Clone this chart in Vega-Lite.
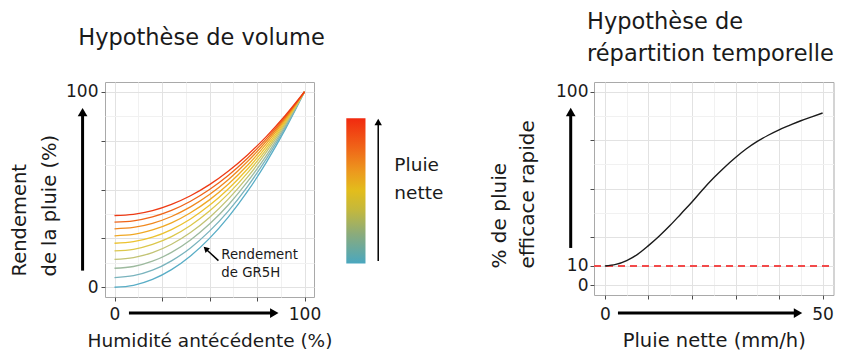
{
  "$schema": "https://vega.github.io/schema/vega-lite/v6.json",
  "autosize": {"type": "none"},
  "padding": {"left": 105, "top": 82, "right": 736, "bottom": 270},
  "bounds": "flush",
  "spacing": 280,
  "datasets": {
    "curves": [
      {"k":0,"x":0,"y":0},{"k":0,"x":10,"y":1},{"k":0,"x":20,"y":4},{"k":0,"x":30,"y":9},{"k":0,"x":40,"y":16},{"k":0,"x":50,"y":25},{"k":0,"x":60,"y":36},{"k":0,"x":70,"y":49},{"k":0,"x":80,"y":64},{"k":0,"x":90,"y":81},{"k":0,"x":100,"y":100},
      {"k":1,"x":0,"y":4.9},{"k":1,"x":10,"y":5.9},{"k":1,"x":20,"y":8.7},{"k":1,"x":30,"y":13.5},{"k":1,"x":40,"y":20.1},{"k":1,"x":50,"y":28.7},{"k":1,"x":60,"y":39.1},{"k":1,"x":70,"y":51.5},{"k":1,"x":80,"y":65.8},{"k":1,"x":90,"y":81.9},{"k":1,"x":100,"y":100},
      {"k":2,"x":0,"y":9.7},{"k":2,"x":10,"y":10.6},{"k":2,"x":20,"y":13.3},{"k":2,"x":30,"y":17.8},{"k":2,"x":40,"y":24.2},{"k":2,"x":50,"y":32.3},{"k":2,"x":60,"y":42.2},{"k":2,"x":70,"y":54.0},{"k":2,"x":80,"y":67.5},{"k":2,"x":90,"y":82.8},{"k":2,"x":100,"y":100},
      {"k":3,"x":0,"y":14.3},{"k":3,"x":10,"y":15.2},{"k":3,"x":20,"y":17.7},{"k":3,"x":30,"y":22.0},{"k":3,"x":40,"y":28.0},{"k":3,"x":50,"y":35.7},{"k":3,"x":60,"y":45.2},{"k":3,"x":70,"y":56.3},{"k":3,"x":80,"y":69.2},{"k":3,"x":90,"y":83.7},{"k":3,"x":100,"y":100},
      {"k":4,"x":0,"y":18.6},{"k":4,"x":10,"y":19.4},{"k":4,"x":20,"y":21.9},{"k":4,"x":30,"y":25.9},{"k":4,"x":40,"y":31.6},{"k":4,"x":50,"y":39.0},{"k":4,"x":60,"y":47.9},{"k":4,"x":70,"y":58.5},{"k":4,"x":80,"y":70.7},{"k":4,"x":90,"y":84.5},{"k":4,"x":100,"y":100},
      {"k":5,"x":0,"y":22.5},{"k":5,"x":10,"y":23.3},{"k":5,"x":20,"y":25.6},{"k":5,"x":30,"y":29.5},{"k":5,"x":40,"y":34.9},{"k":5,"x":50,"y":41.9},{"k":5,"x":60,"y":50.4},{"k":5,"x":70,"y":60.5},{"k":5,"x":80,"y":72.1},{"k":5,"x":90,"y":85.3},{"k":5,"x":100,"y":100},
      {"k":6,"x":0,"y":26.3},{"k":6,"x":10,"y":27.0},{"k":6,"x":20,"y":29.3},{"k":6,"x":30,"y":32.9},{"k":6,"x":40,"y":38.1},{"k":6,"x":50,"y":44.7},{"k":6,"x":60,"y":52.8},{"k":6,"x":70,"y":62.4},{"k":6,"x":80,"y":73.5},{"k":6,"x":90,"y":86.0},{"k":6,"x":100,"y":100},
      {"k":7,"x":0,"y":29.9},{"k":7,"x":10,"y":30.6},{"k":7,"x":20,"y":32.7},{"k":7,"x":30,"y":36.2},{"k":7,"x":40,"y":41.1},{"k":7,"x":50,"y":47.4},{"k":7,"x":60,"y":55.1},{"k":7,"x":70,"y":64.3},{"k":7,"x":80,"y":74.8},{"k":7,"x":90,"y":86.7},{"k":7,"x":100,"y":100},
      {"k":8,"x":0,"y":33.3},{"k":8,"x":10,"y":34.0},{"k":8,"x":20,"y":36.0},{"k":8,"x":30,"y":39.3},{"k":8,"x":40,"y":44.0},{"k":8,"x":50,"y":50.0},{"k":8,"x":60,"y":57.3},{"k":8,"x":70,"y":66.0},{"k":8,"x":80,"y":76.0},{"k":8,"x":90,"y":87.3},{"k":8,"x":100,"y":100},
      {"k":9,"x":0,"y":36.7},{"k":9,"x":10,"y":37.3},{"k":9,"x":20,"y":39.2},{"k":9,"x":30,"y":42.4},{"k":9,"x":40,"y":46.8},{"k":9,"x":50,"y":52.5},{"k":9,"x":60,"y":59.5},{"k":9,"x":70,"y":67.7},{"k":9,"x":80,"y":77.2},{"k":9,"x":90,"y":88.0},{"k":9,"x":100,"y":100}
    ],
    "sig": [
      {"x":0,"y":10},{"x":2.5,"y":10.8},{"x":5,"y":12.8},{"x":7.5,"y":16},{"x":10,"y":20.5},{"x":12.5,"y":25.5},{"x":15,"y":31},{"x":17.5,"y":37},{"x":20,"y":43},{"x":22.5,"y":49.5},{"x":25,"y":55.5},{"x":27.5,"y":61},{"x":30,"y":66},{"x":32.5,"y":70.5},{"x":35,"y":74.3},{"x":37.5,"y":77.5},{"x":40,"y":80.3},{"x":42.5,"y":82.7},{"x":45,"y":85},{"x":47.5,"y":87},{"x":50,"y":89}
    ]
  },
  "hconcat": [
    {
      "width": 209,
      "height": 215,
      "title": {"text": "Hypothèse de volume", "anchor": "middle", "frame": "group", "baseline": "alphabetic", "offset": 35, "dx": -8, "dy": 20.7},
      "encoding": {
        "x": {"field": "x", "type": "quantitative", "scale": {"domain": [-5, 105], "nice": false, "zero": false},
          "axis": {"title": "Humidité antécédente (%)", "titleFontSize": 18.5, "titleY": 49.7, "titleBaseline": "alphabetic",
            "values": [0, 12.5, 25, 37.5, 50, 62.5, 75, 87.5, 100], "format": "d", "labelOverlap": false, "labelPadding": 5,
            "labelExpr": "datum.value == 0 || datum.value == 100 ? datum.label : ''",
            "tickOpacity": {"condition": {"test": "datum.value % 25 != 0", "value": 0}, "value": 1},
            "gridColor": {"condition": {"test": "datum.value % 25 != 0", "value": "#f1f1f1"}, "value": "#e2e2e2"}}},
        "y": {"field": "y", "type": "quantitative", "scale": {"domain": [-5, 105], "nice": false, "zero": false},
          "axis": {"title": ["Rendement", "de la pluie (%)"], "titleFontSize": 19.5, "titleLineHeight": 30, "titleAngle": 270, "titleAlign": "left", "titleBaseline": "alphabetic", "titleX": -80, "titleY": 194,
            "values": [0, 12.5, 25, 37.5, 50, 62.5, 75, 87.5, 100], "format": "d", "labelOverlap": false, "labelPadding": 3,
            "labelExpr": "datum.value == 0 || datum.value == 100 ? datum.label : ''",
            "tickOpacity": {"condition": {"test": "datum.value % 25 != 0", "value": 0}, "value": 1},
            "gridColor": {"condition": {"test": "datum.value % 25 != 0", "value": "#f1f1f1"}, "value": "#e2e2e2"}}}
      },
      "layer": [
        {
          "data": {"name": "curves"},
          "mark": {"type": "line", "interpolate": "monotone", "strokeWidth": 1.3},
          "encoding": {
            "color": {"field": "k", "type": "nominal", "legend": null,
              "scale": {"domain": [0,1,2,3,4,5,6,7,8,9], "range": ["#58adc6", "#79b3bd", "#9dba9e", "#c2c374", "#dcc74b", "#ecc22f", "#f0a824", "#f0881e", "#ef6418", "#ee3a14"]}}
          }
        },
        {
          "data": {"values": [{"x": 56.2, "y": 14.6, "t": "Rendement\nde GR5H"}]},
          "mark": {"type": "text", "align": "left", "baseline": "alphabetic", "fontSize": 13.3, "lineBreak": "\n", "lineHeight": 18.3, "color": "#1a1a1a"},
          "encoding": {"text": {"field": "t"}}
        },
        {
          "data": {"values": [{"x": 54.7, "y": 13.6, "x2": 48.5, "y2": 19.2}]},
          "mark": {"type": "rule", "color": "black", "strokeWidth": 1.5},
          "encoding": {"x2": {"field": "x2"}, "y2": {"field": "y2"}}
        },
        {
          "data": {"values": [
            {"x": -16.8, "y": 8.5, "x2": -16.8, "y2": 89.5},
            {"x": 7.6, "y": -13.2, "x2": 84.3, "y2": -13.2}
          ]},
          "mark": {"type": "rule", "color": "black", "strokeWidth": 3},
          "encoding": {"x2": {"field": "x2"}, "y2": {"field": "y2"}}
        },
        {
          "data": {"values": [{"x": 48.0, "y": 19.7}]},
          "mark": {"type": "point", "shape": "triangle-up", "filled": true, "color": "black", "opacity": 1, "size": 40, "angle": 313}
        },
        {
          "data": {"values": [{"x": -16.8, "y": 89.6}]},
          "mark": {"type": "point", "shape": "triangle-up", "filled": true, "color": "black", "opacity": 1, "size": 95}
        },
        {
          "data": {"values": [{"x": 138.8, "y": 84.5}]},
          "mark": {"type": "point", "shape": "triangle-up", "filled": true, "color": "black", "opacity": 1, "size": 55}
        },
        {
          "data": {"values": [{"x": 84.1, "y": -13.2}]},
          "mark": {"type": "point", "shape": "triangle-right", "filled": true, "color": "black", "opacity": 1, "size": 95}
        },
        {
          "data": {"values": [{"x": 122.0, "x2": 132.1, "y": 12.2, "y2": 86.4}]},
          "mark": {"type": "rect", "color": {"gradient": "linear", "x1": 0, "y1": 0, "x2": 0, "y2": 1,
            "stops": [
              {"offset": 0, "color": "#f12a0f"},
              {"offset": 0.2, "color": "#f06418"},
              {"offset": 0.37, "color": "#ec9a1e"},
              {"offset": 0.5, "color": "#e2bd1c"},
              {"offset": 0.63, "color": "#c4b83c"},
              {"offset": 0.8, "color": "#8aab7c"},
              {"offset": 1, "color": "#4aa7bf"}
            ]}},
          "encoding": {"x2": {"field": "x2"}, "y2": {"field": "y2"}}
        },
        {
          "data": {"values": [{"x": 138.8, "y": 13.4, "y2": 84.5}]},
          "mark": {"type": "rule", "color": "black", "strokeWidth": 1.5},
          "encoding": {"y2": {"field": "y2"}}
        },
        {
          "data": {"values": [{"x": 147.3, "y": 59.6, "t": "Pluie\nnette"}]},
          "mark": {"type": "text", "align": "left", "baseline": "alphabetic", "fontSize": 18.5, "lineBreak": "\n", "lineHeight": 28.3, "color": "#1a1a1a"},
          "encoding": {"text": {"field": "t"}}
        }
      ]
    },
    {
      "width": 239.5,
      "height": 213,
      "title": {"text": ["Hypothèse de", "répartition temporelle"], "anchor": "start", "frame": "group", "baseline": "alphabetic", "lineHeight": 31.6, "offset": 18, "dx": -7, "dy": 19.5},
      "encoding": {
        "x": {"field": "x", "type": "quantitative", "scale": {"domain": [-2.5, 52.5], "nice": false, "zero": false},
          "axis": {"title": "Pluie nette (mm/h)", "titleFontSize": 19.5, "titleY": 51, "titleBaseline": "alphabetic",
            "values": [0, 5, 10, 15, 20, 25, 30, 35, 40, 45, 50], "format": "d", "labelOverlap": false, "labelPadding": 7,
            "labelExpr": "datum.value == 0 || datum.value == 50 ? datum.label : ''",
            "tickOpacity": {"condition": {"test": "datum.value % 10 != 0", "value": 0}, "value": 1},
            "gridColor": {"condition": {"test": "datum.value % 10 != 0", "value": "#f1f1f1"}, "value": "#e2e2e2"}}},
        "y": {"field": "y", "type": "quantitative", "scale": {"domain": [-5, 105], "nice": false, "zero": false},
          "axis": {"title": ["% de pluie", "efficace rapide"], "titleFontSize": 20, "titleLineHeight": 28, "titleAngle": 270, "titleAlign": "left", "titleBaseline": "alphabetic", "titleX": -89, "titleY": 186,
            "values": [0, 10, 25, 37.5, 50, 62.5, 75, 87.5, 100], "format": "d", "labelOverlap": false, "labelPadding": 2,
            "labelExpr": "datum.value == 0 || datum.value == 10 || datum.value == 100 ? datum.label : ''",
            "tickOpacity": {"condition": {"test": "indexof([0,10,25,50,75,100], datum.value) < 0", "value": 0}, "value": 1},
            "gridColor": {"condition": {"test": "indexof([0,10,25,50,75,100], datum.value) < 0", "value": "#f1f1f1"}, "value": "#e2e2e2"}}}
      },
      "layer": [
        {
          "data": {"values": [{"x": -2.5, "x2": 52.5, "y": 10}]},
          "mark": {"type": "rule", "color": "#f24a4a", "strokeWidth": 2, "strokeDash": [7, 5]},
          "encoding": {"x2": {"field": "x2"}}
        },
        {
          "data": {"name": "sig"},
          "mark": {"type": "line", "interpolate": "monotone", "color": "#1a1a1a", "strokeWidth": 1.4}
        },
        {
          "data": {"values": [
            {"x": -7.85, "y": 19.3, "x2": -7.85, "y2": 89.5},
            {"x": 3.0, "y": -14.3, "x2": 44.3, "y2": -14.3}
          ]},
          "mark": {"type": "rule", "color": "black", "strokeWidth": 3},
          "encoding": {"x2": {"field": "x2"}, "y2": {"field": "y2"}}
        },
        {
          "data": {"values": [{"x": -7.85, "y": 89.5}]},
          "mark": {"type": "point", "shape": "triangle-up", "filled": true, "color": "black", "opacity": 1, "size": 95}
        },
        {
          "data": {"values": [{"x": 44.35, "y": -14.3}]},
          "mark": {"type": "point", "shape": "triangle-right", "filled": true, "color": "black", "opacity": 1, "size": 95}
        }
      ]
    }
  ],
  "config": {
    "font": "DejaVu Sans",
    "view": {"stroke": "#a9a9a9", "strokeWidth": 1},
    "axis": {"labelFont": "DejaVu Sans", "labelFontSize": 17, "labelColor": "#1a1a1a", "tickColor": "#4d4d4d", "tickSize": 4, "domain": false, "titleFont": "DejaVu Sans", "titleFontWeight": "normal", "titleColor": "#1a1a1a", "gridWidth": 1},
    "title": {"font": "DejaVu Sans", "fontWeight": "normal", "fontSize": 22.5, "color": "#1a1a1a"},
    "text": {"font": "DejaVu Sans"}
  }
}
